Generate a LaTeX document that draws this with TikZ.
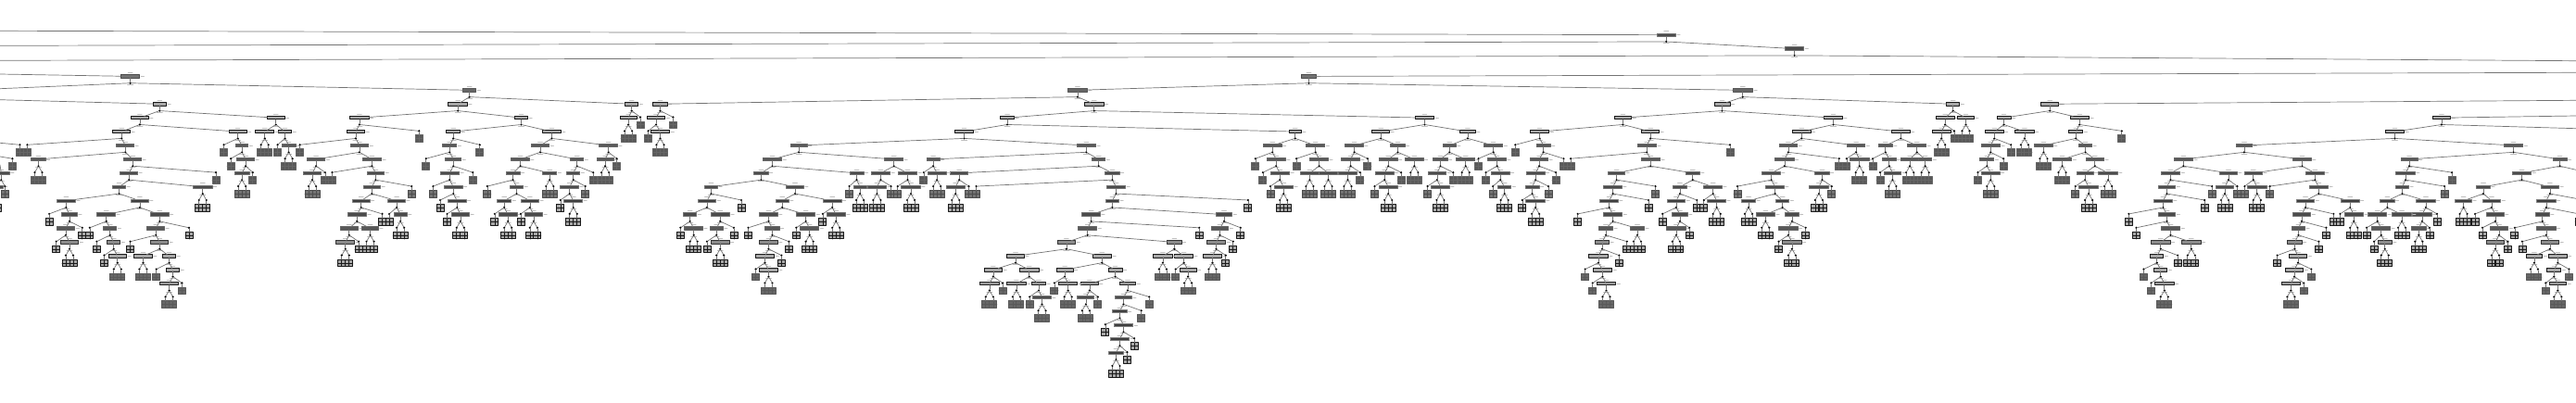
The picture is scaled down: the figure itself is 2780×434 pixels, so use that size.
\documentclass[tikz,border=0pt]{standalone}
% tone of the frame on each row of the tree
\def\splittones{{55,55,55,70,65,90,90,90,60,60,55,55,50,55,60,80,90,90,85,55,50,50,50,50,50}}
\def\leaftones{{60,60,60,60,60,60,60,60,60,60,60,70,90,90,90,90,90,65,65,65,65,90,90,90,90}}
\tikzset{
	region/.style={xshift=#1*0.5pt, x=0.2232pt},
	splitbox/.style={rectangle, inner sep=0pt, outer sep=0pt, minimum height=1.7pt, line width=0.45pt},
	leafbox/.style={rectangle, inner sep=0pt, outer sep=0pt, minimum width=4pt, minimum height=3.8pt, line width=0.45pt},
	branchdot/.style={circle, inner sep=0pt, outer sep=0pt, minimum size=1.2pt, fill=black},
	branch/.style={draw=black!55, line width=0.35pt},
	smudge/.style={draw=black!25, line width=0.4pt}
}
\newcommand{\putsplit}[4]{
	\pgfmathsetmacro\rowy{37.67+14.917*#3}
	\pgfmathtruncatemacro\tone{\splittones[#3]}
	\pgfmathtruncatemacro\inner{125-\tone}
	\node[splitbox, draw=black!\tone, fill=black!\inner, minimum width=#4*0.2232pt] (#1) at (#2,\rowy) {};
	\node[branchdot] (d#1) at (#2,\rowy+7.3) {};
	\draw[branch] (#1) -- (d#1);
	\draw[smudge] ([xshift=0.7pt]#1.east) -- ++(1.6pt,0) ([xshift=-1.2pt,yshift=1.1pt]#1.north) -- ++(2.4pt,0) ([xshift=-1.5pt,yshift=-3.6pt]#1.south) -- ++(3pt,0);
}
\newcommand{\putleaf}[4]{
	\pgfmathsetmacro\rowy{37.67+14.917*#3}
	\pgfmathtruncatemacro\tone{\leaftones[#3]}
	\pgfmathtruncatemacro\inner{125-\tone}
	\node[branchdot] (u#1) at (#2,\rowy-0.7) {};
	\node[leafbox, draw=black!\tone, fill=black!\inner] (#1) at (#2,\rowy+7.6) {};
	\draw[line width=0.35pt, draw=black!\tone] (#1.west) -- (#1.east) (#1.north) -- (#1.south);
	\draw[branch] (#4) -- (u#1);
	\draw[branch] (u#1) -- (#1);
}
\newcommand{\boxpass}[4]{
	\begin{scope}[region=#2]
		\foreach \x/\lv/\w/\p in #3 {\putsplit{#1\x-\lv}{\x}{\lv}{\w}}
		\foreach \x/\lv/\w/\p in #4 {\putsplit{#1\x-\lv}{\x}{\lv}{\w}}
	\end{scope}
}
\newcommand{\edgepass}[5]{
	\begin{scope}[region=#2]
		\foreach \x/\lv/\w/\p in #3 {
			\pgfmathtruncatemacro\up{\lv-1}
			\draw[branch] (d\p-\up) -- (#1\x-\lv);
		}
		\foreach \x/\lv/\w/\p in #4 {
			\pgfmathtruncatemacro\up{\lv-1}
			\pgfmathtruncatemacro\dn{\lv+1}
			\pgfmathtruncatemacro\xl{\x-9}
			\pgfmathtruncatemacro\xr{\x+9}
			\draw[branch] (d\p-\up) -- (#1\x-\lv);
			\putleaf{#1l\xl-\dn}{\xl}{\dn}{d#1\x-\lv}
			\putleaf{#1r\xr-\dn}{\xr}{\dn}{d#1\x-\lv}
		}
		\foreach \x/\lv/\p in #5 {
			\pgfmathtruncatemacro\up{\lv-1}
			\putleaf{#1f\x-\lv}{\x}{\lv}{d\p-\up}
		}
	\end{scope}
}
% x/row/width/parent, x read in quarter-ish units per region
\def\splitsa{315/3/46/offb,1135/4/32/a315,386/5/33/offa,1107/5/46/a1135,1527/5/32/a1135,
338/6/42/a386,667/6/42/a386,869/6/46/a1107,1260/6/32/a1107,
294/7/42/a338,575/7/42/a338,689/7/32/a667,860/7/44/a869,1096/7/34/a1260,1334/7/44/a1260,
303/8/42/a294,585/8/30/a575,869/8/44/a860,1087/8/34/a1096,1306/8/44/a1334,1471/8/44/a1334,
321/9/42/a303,594/9/42/a585,764/9/44/a869,899/9/46/a869,1096/9/38/a1087,1258/9/44/a1306,1395/9/32/a1306,
3/10/40/offe,312/10/42/a321,908/10/42/a899,1087/10/46/a1096,1240/10/34/a1258,1386/10/32/a1395,
288/11/32/a312,899/11/42/a908,1096/11/44/a1087,1249/11/32/a1240,1377/11/44/a1386,
160/12/46/a288,338/12/42/a288,873/12/42/a899,959/12/42/a899,1105/12/44/a1096,1219/12/34/a1249,1281/12/44/a1249,
168/13/38/a160,257/13/44/a338,386/13/44/a338,863/13/46/a873,
159/14/44/a168,266/14/32/a257,377/14/42/a386,844/14/44/a863,
275/15/32/a266,386/15/42/a377,409/16/32/a386,418/17/32/a409}
\def\twinsa{-15/11/44/a3,93/9/34/a303,585/10/36/a594,490/11/46/a312,168/15/44/a159,284/16/44/a275,346/16/44/a386,409/18/44/a418,
640/7/44/a667,698/8/34/a689,755/10/44/a764,968/13/32/a959,895/14/40/a863,835/15/44/a844,1113/13/44/a1105,
1329/10/34/a1258,1228/13/44/a1219,1290/13/44/a1281,1386/12/44/a1377,1463/9/40/a1471,1519/6/40/a1527}
\def\leavesa{66/8/a294,48/8/offc,30/9/offd,12/11/a3,522/10/a321,119/13/a160,199/14/a168,136/15/a159,217/14/a257,234/15/a266,
252/16/a275,457/14/a386,315/15/a377,378/17/a409,440/18/a418,541/8/a575,558/9/a585,611/10/a594,671/8/a689,1013/7/a869,
725/8/a860,786/10/a764,803/10/a899,995/11/a908,924/13/a873,941/13/a959,867/15/a844,1160/8/a1096,1030/9/a1087,1143/10/a1096,
1047/11/a1087,1064/12/a1096,1081/13/a1105,1178/11/a1240,1196/13/a1219,1259/13/a1281,1415/11/a1386,1434/10/a1395,1355/12/a1377,
1491/9/a1471,1548/6/a1527}
\def\splitsb{1037/4/48/c28,28/5/34/b1037,1077/5/46/b1037,18/6/44/b28,867/6/34/b1077,763/7/46/b867,1563/7/30/b867,
363/8/40/b763,1058/8/46/b763,1508/8/44/b1563,299/9/46/b363,593/9/44/b363,688/9/32/b1058,1088/9/32/b1058,1517/9/46/b1508,
272/10/34/b299,503/10/34/b299,561/10/46/b593,626/10/46/b593,751/10/42/b1088,1121/10/34/b1088,1526/10/46/b1517,
151/11/32/b272,354/11/42/b272,1130/11/46/b1121,141/12/44/b151,323/12/32/b354,444/12/44/b354,1121/12/32/b1130,
100/13/32/b141,173/13/46/b141,290/13/44/b323,380/13/46/b323,1070/13/44/b1121,1391/13/40/b1121,
164/14/32/b173,299/14/34/b290,1061/14/46/b1070,1381/14/42/b1391,
290/15/44/b299,1010/15/44/b1061,1271/15/34/b1061,1372/15/46/b1381,
281/16/46/b290,887/16/42/b1010,1096/16/46/b1010,1294/16/44/b1271,
833/17/44/b887,920/17/46/b887,1006/17/40/b1096,1128/17/34/b1096,
943/18/34/b920,1066/18/42/b1128,1158/18/40/b1128,1148/19/40/b1158,1139/20/34/b1148,1148/21/46/b1139,1139/22/46/b1148}
\def\twinsb{28/7/46/b18,697/10/44/b688,511/11/32/b503,552/11/46/b561,634/11/46/b626,742/11/46/b751,1535/11/46/b1526,
453/13/46/b444,109/14/44/b100,389/14/46/b380,173/15/44/b164,1243/16/46/b1271,1363/16/46/b1372,
290/17/44/b281,1304/17/40/b1294,824/18/46/b833,889/18/46/b920,1014/18/46/b1006,951/19/44/b943,1057/19/40/b1066,1130/23/34/b1139}
\def\leavesb{59/6/b28,-1/7/b18,224/12/b151,77/14/b100,206/14/b173,141/15/b164,241/14/b290,339/15/b299,321/16/b290,259/17/b281,
357/14/b380,421/13/b444,485/11/b503,586/11/b561,602/11/b626,665/10/b688,774/11/b751,792/11/b1121,1449/12/b1130,1331/14/b1070,
856/18/b833,921/19/b943,981/18/b1006,1086/19/b1066,1210/19/b1158,1191/20/b1148,1104/21/b1139,1174/22/b1148,1157/23/b1139,
1274/17/b1294,1431/14/b1391,1413/15/b1381,1395/16/b1372,1467/9/b1508,1485/10/b1517,1503/11/b1526}
\def\splitsc{892/0/46/offh,1202/1/46/c892,28/3/34/offg,1077/4/48/c28,1027/5/38/c1077,
308/6/46/b1077,787/6/42/c1027,1296/6/44/c1027,
202/7/42/c308,412/7/38/c308,586/7/46/c787,854/7/42/c787,1219/7/44/c1296,1459/7/44/c1296,
44/8/46/b1563,138/8/44/c202,243/8/34/c202,368/8/32/c412,474/8/46/c412,595/8/34/c586,845/8/46/c854,
1187/8/44/c1219,1351/8/44/c1219,1422/8/34/c1459,1498/8/44/c1459,
53/9/44/c44,129/9/44/c138,220/9/44/c243,346/9/34/c368,483/9/44/c474,585/9/42/c595,854/9/46/c845,1178/9/46/c1187,1431/9/32/c1422,
211/10/44/c220,338/10/44/c346,491/10/44/c483,576/10/44/c585,772/10/40/c854,956/10/34/c854,1146/10/44/c1178,1269/10/34/c1178,
568/11/34/c576,763/11/44/c772,925/11/32/c956,1005/11/44/c956,1155/11/44/c1146,
754/12/44/c763,916/12/44/c925,1173/12/32/c1155,763/13/46/c754,925/13/38/c916,1196/13/32/c1173,
746/14/34/c763,1187/14/46/c1196,737/15/34/c746,728/16/46/c737,738/17/46/c728}
\def\twinsc{283/9/44/c243,407/9/44/c368,1359/9/46/c1351,1481/9/44/c1498,1518/9/32/c1498,
30/10/44/c53,75/10/44/c53,122/10/44/c129,1439/10/42/c1431,220/11/44/c211,346/11/44/c338,501/11/32/c491,1261/11/46/c1269,
576/12/46/c568,1014/12/44/c1005,1091/12/34/c1155,1132/13/46/c1173,822/14/34/c763,916/14/46/c925,1196/15/46/c1187,747/18/46/c738}
\def\leavesc{-2/9/c44,170/9/c138,152/10/c129,251/10/c220,187/11/c211,377/10/c346,315/11/c338,438/9/c474,456/10/c483,473/11/c491,
527/8/c586,644/9/c595,625/10/c585,607/11/c576,544/12/c568,1046/8/c854,661/9/c845,866/11/c772,849/12/c763,678/13/c754,797/15/c746,
778/16/c737,696/17/c728,714/18/c738,966/12/c925,883/13/c916,948/14/c925,983/12/c1005,1310/9/c1187,1328/9/c1351,1064/11/c1146,
1292/11/c1269,1229/14/c1196,1164/15/c1187,1391/9/c1422,1409/10/c1431}
\def\splitsd{62/5/32/c1077,296/5/42/offi,43/6/44/d62,185/6/34/d296,368/6/46/d296,1243/6/44/offj,
162/7/44/d185,359/7/34/d368,1130/7/46/d1243,153/8/46/d162,382/8/32/d359,766/8/40/d1130,1417/8/46/d1130,
144/9/34/d153,405/9/44/d382,619/9/46/d766,906/9/44/d766,1165/9/40/d1417,1529/9/34/d1417,
381/10/40/d405,588/10/46/d619,728/10/42/d619,788/10/44/d906,937/10/44/d906,1156/10/46/d1165,1437/10/46/d1529,
579/11/42/d588,946/11/46/d937,1148/11/32/d1156,1344/11/34/d1437,1505/11/44/d1437,
570/12/44/d579,914/12/44/d946,1022/12/44/d946,1112/12/34/d1148,1205/12/46/d1148,1364/12/44/d1344,1496/12/46/d1505,
579/13/42/d570,905/13/44/d914,1088/13/44/d1112,1196/13/46/d1205,1373/13/42/d1364,1487/13/34/d1496,
588/14/46/d579,897/14/32/d905,1097/14/44/d1088,1382/14/44/d1373,1496/14/46/d1487,
564/15/46/d588,888/15/34/d897,1505/15/44/d1496,555/16/32/d564,896/16/44/d888,1524/16/44/d1505,
564/17/32/d555,887/17/44/d896,1515/17/34/d1524}
\def\twinsd{93/6/40/d62,34/7/44/d43,235/7/46/d185,281/8/44/d359,326/9/46/d382,153/10/44/d144,437/10/46/d405,390/11/46/d381,
719/11/44/d728,797/11/46/d788,1296/12/40/d1344,1031/13/46/d1022,1147/13/46/d1112,1188/14/34/d1196,
638/15/46/d588,1106/15/34/d1097,1373/15/44/d1382,1467/16/40/d1505,573/18/46/d564,879/18/46/d887,1524/18/42/d1515}
\def\leavesd{65/7/d43,202/8/d162,184/9/d153,122/10/d144,470/7/d368,358/11/d381,688/11/d588,670/12/d579,487/13/d570,505/14/d579,
605/16/d564,523/17/d555,541/18/d564,749/11/d728,767/11/d788,828/11/d937,982/13/d914,998/13/d1022,964/14/d905,946/15/d897,846/16/d888,
928/17/d896,910/18/d887,1268/10/d1165,1250/11/d1156,1232/13/d1205,1062/14/d1088,1080/15/d1097,1214/14/d1196,1324/13/d1364,
1342/14/d1373,1403/15/d1382,1420/14/d1487,1438/15/d1496,1551/17/d1524,1495/18/d1515,1575/13/d1496}
\begin{document}
\begin{tikzpicture}[x=0.5pt, y=-0.5pt, line join=round, line cap=round]
	\useasboundingbox (0,0) rectangle (2780,434);
	\clip (0,0) rectangle (2780,434);
	% free ends of the branches that leave the picture
	\coordinate (doffh--1) at (0,33.3);
	\coordinate (doffb-2) at (0,80);
	\coordinate (doffa-4) at (0,107.7);
	\coordinate (doffc-7) at (0,154.3);
	\coordinate (doffd-8) at (0,169);
	\coordinate (doffe-9) at (0,178);
	\coordinate (doffg-2) at (2780,78.3);
	\coordinate (doffi-4) at (2780,108.3);
	\coordinate (doffj-5) at (2780,125);
	\coordinate (outa) at (0,49.3);
	\coordinate (outb) at (0,65.3);
	\coordinate (outc) at (2780,65.7);
	\coordinate (outd) at (0,95.7);
	\coordinate (oute) at (2780,138.7);
	\coordinate (outf) at (2780,183.3);
	\coordinate (outg) at (2780,214.3);
	\boxpass{a}{0}{\splitsa}{\twinsa}
	\boxpass{b}{700}{\splitsb}{\twinsb}
	\boxpass{c}{1400}{\splitsc}{\twinsc}
	\boxpass{d}{2080}{\splitsd}{\twinsd}
	\edgepass{a}{0}{\splitsa}{\twinsa}{\leavesa}
	\edgepass{b}{700}{\splitsb}{\twinsb}{\leavesb}
	\edgepass{c}{1400}{\splitsc}{\twinsc}{\leavesc}
	\edgepass{d}{2080}{\splitsd}{\twinsd}{\leavesd}
	\draw[branch] (dc892-0) -- (outa) (dc1202-1) -- (outb) (dc1202-1) -- (outc) (da315-3) -- (outd);
	\draw[branch] (dd1243-6) -- (oute) (dd1529-9) -- (outf) (dd1505-11) -- (outg);
\end{tikzpicture}
\end{document}
